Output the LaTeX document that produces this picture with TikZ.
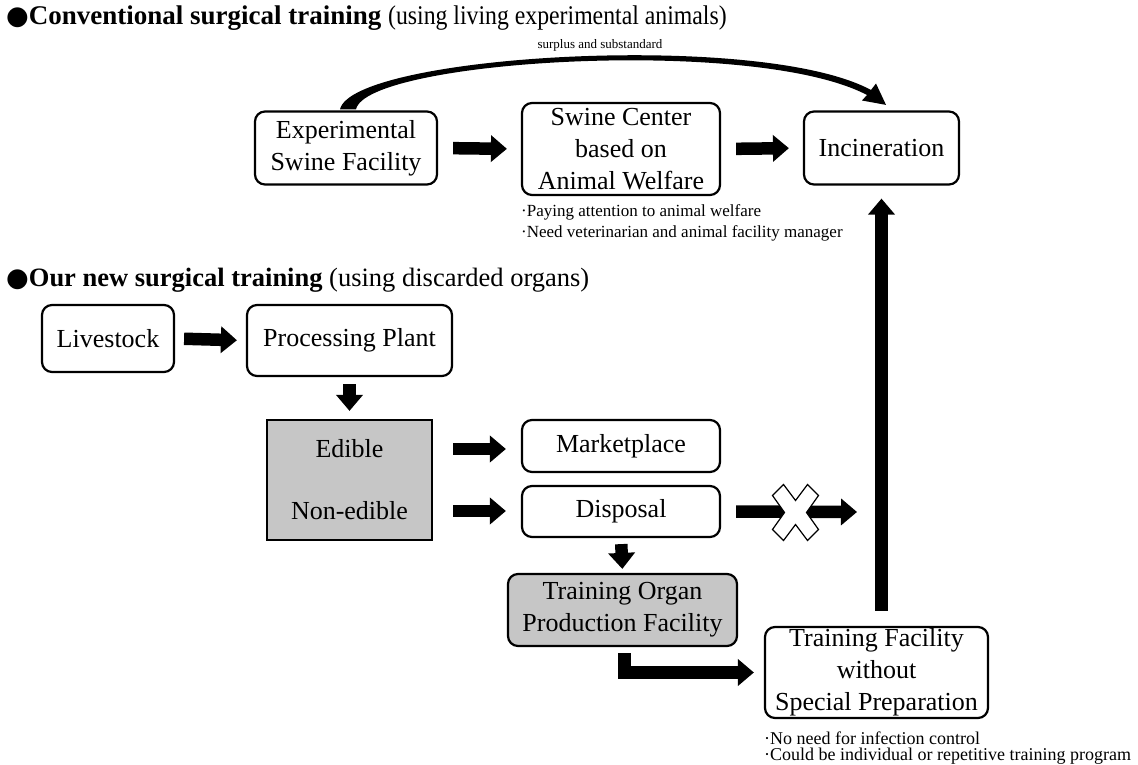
\documentclass[tikz,border=0pt]{standalone}
\usepackage{fontspec}
\usepackage{graphicx}
\setmainfont{Liberation Serif}
\newfontfamily\djv{DejaVu Sans}
\usetikzlibrary{arrows.meta,calc}
\definecolor{boxgray}{RGB}{198,198,198}
\begin{document}
\begin{tikzpicture}[x=1pt,y=-1pt,
  box/.style={draw,line width=2.2pt,rounded corners=10pt,align=center,inner sep=0pt,
    font=\fontsize{26}{32}\selectfont},
  txt/.style={inner sep=0pt,font=\fontsize{26}{32}\selectfont},
  blk/.style={line width=12.5pt,-{Triangle[length=16pt,width=26pt]}},
  note/.style={anchor=west,inner sep=0pt,font=\fontsize{17}{20}\selectfont},
  head/.style={anchor=west,inner sep=0pt,font=\fontsize{27}{30}\selectfont}]
\fill[white] (0,0) rectangle (1138,765);
\useasboundingbox (0,0) rectangle (1138,765);

% headings
\node[head] (h1) at (6,18) {{\fontsize{26}{26}\djv ●}\textbf{Conventional surgical training} \scalebox{0.88}[1]{(using living experimental animals)}};
\node[head,font=\fontsize{26.5}{30}\selectfont] (h2) at (6,280) {{\fontsize{26}{26}\djv ●}\textbf{Our new surgical training} (using discarded organs)};

% top row
\node[box,minimum width=182pt,minimum height=73pt] (exp) at (346,148) {Experimental\\Swine Facility};
\node[box,minimum width=198pt,minimum height=92pt] (swc) at (621,149) {Swine Center\\based on\\Animal Welfare};
\node[box,minimum width=155pt,minimum height=73pt] (inc) at (881.5,148) {Incineration};

\node[note] (n1) at (521,212) {·Paying attention to animal welfare};
\node[note] (n2) at (521,233) {·Need veterinarian and animal facility manager};

% bottom part
\node[box,minimum width=132pt,minimum height=67pt] (live) at (108,338.5) {Livestock};
\node[box,minimum width=205pt,minimum height=71pt] (proc) at (349.5,340.5) {Processing Plant};
\node[draw,line width=2.2pt,fill=boxgray,minimum width=165pt,minimum height=120pt] (edi) at (349.5,480) {};
\node[txt] (edt) at (349.5,449) {Edible};
\node[txt] (net) at (349.5,511) {Non-edible};
\node[box,minimum width=198pt,minimum height=52pt] (mkt) at (621,446) {Marketplace};
\node[box,minimum width=198pt,minimum height=51pt] (dis) at (621,511.5) {Disposal};
\node[box,fill=boxgray,minimum width=229pt,minimum height=72pt] (top) at (622.5,610) {Training Organ\\Production Facility};
\node[box,minimum width=223pt,minimum height=91pt] (tfw) at (876.5,672.5) {Training Facility\\without\\Special Preparation};

\node[note,font=\fontsize{18}{20}\selectfont] (n3) at (764,738) {·No need for infection control};
\node[note,font=\fontsize{18}{20}\selectfont] (n4) at (764,756) {·Could be individual or repetitive training program};

% block arrows
\draw[blk,shorten <=15pt,shorten >=14pt] (exp.east) -- (swc.west);
\draw[blk,shorten <=15pt,shorten >=14pt] (swc.east) -- (inc.west);
\draw[blk,shorten <=9pt,shorten >=9pt] (live.east) -- (proc.west);
\draw[blk,shorten <=7pt,shorten >=8pt] (proc.south) -- (edi.north);
\draw[blk,shorten <=20pt,shorten >=15pt] (edt -| edi.east) -- (edt -| mkt.west);
\draw[blk,shorten <=20pt,shorten >=15pt] (net -| edi.east) -- (net -| dis.west);
\draw[blk,shorten <=6pt,shorten >=4pt] (dis.south) -- (top.south |- top.north);
\coordinate (xend) at (857,512);
\draw[blk,shorten <=15pt] (dis.east) -- (xend);
\draw[blk,shorten <=6pt,shorten >=10pt] ([xshift=2pt]top.south) |- (tfw.west);
\draw[blk,shorten <=15pt,shorten >=13pt] (tfw.north -| inc.south) -- (inc.south);

% crossing mark
\draw[fill=white,line width=1.2pt,line join=miter] (795.5,512.5) ++(-23,-17)
  -- ++(11,-11) -- (795.5,500.5) -- (807.5,484.5) -- (818.5,495.5) -- (806.5,512.5)
  -- (818.5,529.5) -- (807.5,540.5) -- (795.5,524.5) -- (783.5,540.5) -- (772.5,529.5)
  -- (784.5,512.5) -- cycle;

% curved arrow
\fill ($(exp.north)+(-6,-1)$) .. controls (352,55) and (760,30) .. (871,90)
  -- (876,83.5) -- ($(inc.north)+(4.5,-5.5)$) -- (862,100.5) -- (867,95)
  .. controls (755,36) and (366,60) .. ($(exp.north)+(10,-1)$) -- cycle;
\node[inner sep=0pt,font=\fontsize{13}{15}\selectfont] (sur) at (600,45) {surplus and substandard};
\end{tikzpicture}
\end{document}
